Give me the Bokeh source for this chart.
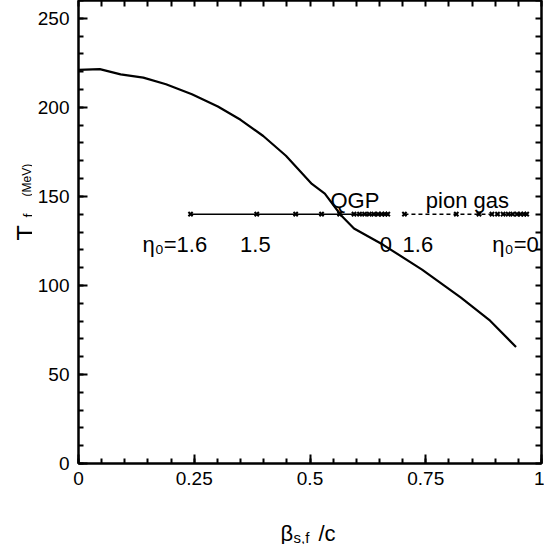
import math
from bokeh.plotting import figure
from bokeh.models import Range1d, LinearAxis, FixedTicker
from bokeh.layouts import row, column
from bokeh.core.properties import value
from bokeh.embed import file_html
from bokeh.resources import INLINE

# freeze-out curve
beta_curve = [0.0, 0.046, 0.091, 0.14, 0.189, 0.245, 0.301, 0.350, 0.399, 0.448,
              0.504, 0.532, 0.567, 0.595, 0.658, 0.742, 0.826, 0.889, 0.945]
T_curve = [221, 221.5, 218.5, 216.7, 213, 207.4, 200.5, 193, 183.9, 172.8,
           157, 151.5, 139.4, 132, 122.8, 108.9, 93.2, 80.2, 65.4]

# eta_0 scan at fixed T
T_line = 140
beta_qgp = [0.242, 0.385, 0.469, 0.525, 0.564, 0.595, 0.607, 0.618, 0.628,
            0.638, 0.647, 0.655, 0.662, 0.668]
beta_pion = [0.704, 0.816, 0.865, 0.893, 0.905, 0.917, 0.928, 0.938, 0.947,
             0.955, 0.962, 0.968]

x_ticks = [0, 0.25, 0.5, 0.75, 1]
x_tick_labels = ["0", "0.25", "0.5", "0.75", "1"]
y_ticks = [0, 50, 100, 150, 200, 250]

FONT = "Liberation Sans"

p = figure(width=512, height=496, x_range=Range1d(0, 1), y_range=Range1d(0, 260),
           output_backend="svg", toolbar_location=None,
           min_border_left=46, min_border_right=3, min_border_top=0, min_border_bottom=33)
p.grid.visible = False
p.outline_line_color = "black"
p.outline_line_width = 2

minor_x = [round(i * 0.05, 2) for i in range(21)]
minor_y = [i * 10 for i in range(27)]

def style_axis(ax):
    ax.axis_line_width = 2
    ax.major_tick_line_width = 2
    ax.minor_tick_line_width = 2
    ax.major_tick_in = 9
    ax.major_tick_out = 0
    ax.minor_tick_in = 5
    ax.minor_tick_out = 0

xa = p.xaxis[0]
xa.ticker = FixedTicker(ticks=x_ticks, minor_ticks=minor_x)
style_axis(xa)
xa.major_label_overrides = {t: l for t, l in zip(x_ticks, x_tick_labels)}
xa.major_label_standoff = 8
xa.major_label_text_font = FONT
xa.major_label_text_font_size = "19px"
xa.major_label_text_color = "black"

ya = p.yaxis[0]
ya.ticker = FixedTicker(ticks=y_ticks, minor_ticks=minor_y)
style_axis(ya)
ya.major_label_standoff = 9
ya.major_label_text_font = FONT
ya.major_label_text_font_size = "19px"
ya.major_label_text_color = "black"

def tick_only_axis(minor):
    ax = LinearAxis(ticker=FixedTicker(ticks=[], minor_ticks=minor))
    style_axis(ax)
    ax.minor_tick_in = 6
    ax.major_label_standoff = 0
    ax.axis_label_standoff = 0
    return ax

p.add_layout(tick_only_axis(minor_y), "right")
p.add_layout(tick_only_axis(minor_x), "above")

p.line(beta_curve, T_curve, line_color="black", line_width=2.2)
p.line(beta_qgp, [T_line] * len(beta_qgp), line_color="black", line_width=1.6)
p.scatter(beta_qgp, [T_line] * len(beta_qgp), marker="x", size=6, line_width=2, line_color="black")
p.line(beta_pion, [T_line] * len(beta_pion), line_color="black", line_width=1.6, line_dash="4 3")
p.scatter(beta_pion, [T_line] * len(beta_pion), marker="x", size=6, line_width=2, line_color="black")

def txt(fig, x, y, text, size, align="left", angle=0.0):
    fig.text(x=[x], y=[y], text=[text], text_font=value(FONT), text_font_size=size,
             text_align=align, text_baseline="alphabetic", angle=angle, text_color="black")

txt(p, 0.597, 147.7, "QGP", "22px", "center")
txt(p, 0.840, 147.7, "pion gas", "22px", "center")
txt(p, 0.208, 122.8, "η₀=1.6", "22px", "center")
txt(p, 0.382, 122.8, "1.5", "22px", "center")
txt(p, 0.664, 122.8, "0", "22px", "center")
txt(p, 0.733, 122.8, "1.6", "22px", "center")
txt(p, 0.994, 122.8, "η₀=0", "22px", "right")

def blank(w, h, xr, yr, **kw):
    f = figure(width=w, height=h, x_range=xr, y_range=yr, output_backend="svg",
               toolbar_location=None, x_axis_location=None, y_axis_location=None,
               **kw)
    f.grid.visible = False
    f.outline_line_color = None
    return f

# y-axis title panel (x: px from its left edge, y: px from its bottom edge)
pl = blank(32, 544, Range1d(0, 32), Range1d(0, 544), min_border=0)
txt(pl, 25, 304, "T", "25px", angle=math.pi / 2)
txt(pl, 28, 327, "f", "14px", angle=math.pi / 2)
txt(pl, 26, 348, "(MeV)", "12px", angle=math.pi / 2)

# x-axis title panel (frame aligned with the main frame)
pb = blank(512, 48, Range1d(78, 541), Range1d(0, 48),
           min_border_left=46, min_border_right=3, min_border_top=0, min_border_bottom=0)
txt(pb, 280, 11, "β", "22px")
txt(pb, 293, 7, "s,f", "15px")
txt(pb, 318, 11, "/c", "22px")

layout = row(pl, column(p, pb, spacing=0), spacing=0)

open("out.html", "w").write(file_html(layout, INLINE))
